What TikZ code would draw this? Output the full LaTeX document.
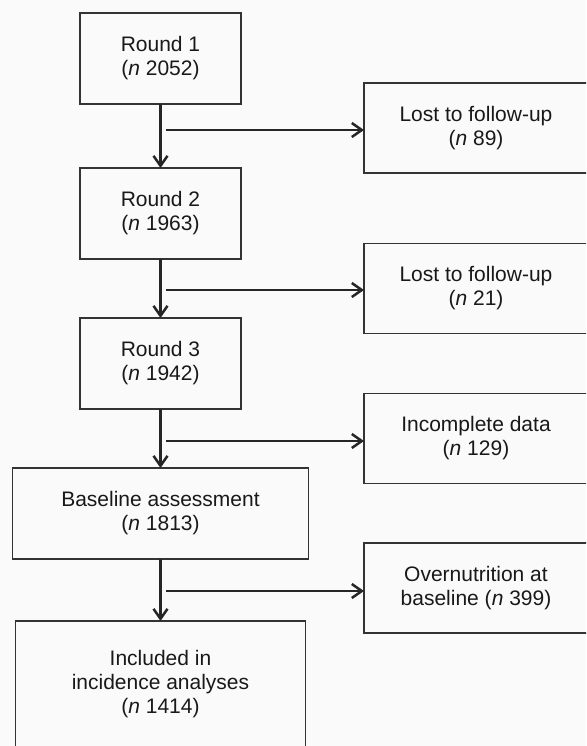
\documentclass[tikz,border=0pt]{standalone}
\usepackage{fontspec}
\setmainfont{Liberation Sans}
\usetikzlibrary{arrows.meta}
\begin{document}
\begin{tikzpicture}[x=0.5pt,y=-0.5pt,
    box/.style={draw=black!80, line width=0.75pt, inner sep=0pt, outer sep=0pt, align=center, text=black!90, font=\fontsize{10.5pt}{12pt}\selectfont},
    stage/.style={box, minimum width=80.5pt, minimum height=45.5pt},
    lost/.style={box, minimum width=112pt, minimum height=45pt},
    flow/.style={draw=black!85, line width=1.25pt, -{Straight Barb[length=5pt,width=7pt]}}]
    \useasboundingbox (0,0) rectangle (586,746);
    \fill[black!2] (0,0) rectangle (586,746);
    \clip (0,0) rectangle (586,746);
    % main chain
    \node[stage] (r1) at (160.5,58.5) {Round 1\\(\textit{n} 2052)};
    \node[stage] (r2) at (160.5,213.5) {Round 2\\(\textit{n} 1963)};
    \node[stage] (r3) at (160.5,363.5) {Round 3\\(\textit{n} 1942)};
    \node[box, minimum width=148pt, minimum height=45.5pt] (base) at (160.5,513.5) {Baseline assessment\\(\textit{n} 1813)};
    \node[box, minimum width=145pt, minimum height=63.5pt] (incl) at (160.5,684.5) {Included in\\incidence analyses\\(\textit{n} 1414)};
    % exclusions
    \node[lost] (l1) at (476,128) {Lost to follow-up\\(\textit{n} 89)};
    \node[lost] (l2) at (476,288.5) {Lost to follow-up\\(\textit{n} 21)};
    \node[lost] (l3) at (476,438.5) {Incomplete data\\(\textit{n} 129)};
    \node[lost] (l4) at (476,588) {Overnutrition at\\baseline (\textit{n} 399)};
    \coordinate (s1) at (166,130);
    \coordinate (s2) at (166,290);
    \coordinate (s3) at (166,441);
    \coordinate (s4) at (166,591);
    \draw[flow] (r1) -- (r2);
    \draw[flow] (r2) -- (r3);
    \draw[flow] (r3) -- (base);
    \draw[flow] (base) -- (incl);
    \draw[flow] (s1) -- (s1 -| l1.west);
    \draw[flow] (s2) -- (s2 -| l2.west);
    \draw[flow] (s3) -- (s3 -| l3.west);
    \draw[flow] (s4) -- (s4 -| l4.west);
\end{tikzpicture}
\end{document}
